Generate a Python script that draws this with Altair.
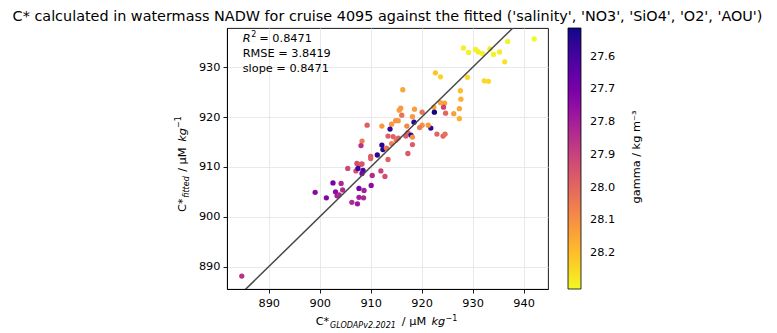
import altair as alt
import pandas as pd

# ---- data ----
glodap = [942.1, 936.9, 928.2, 929.2, 930.6, 931.1, 931.9, 933.4, 934.1, 935.3, 936.3,
          929.0, 932.3, 933.1, 922.7, 923.7, 927.6, 927.7, 923.7, 924.5, 927.4, 926.3, 927.4,
          924.3, 924.7, 922.4, 922.5, 921.8, 921.3, 923.0, 924.2, 924.6, 920.1, 918.6, 918.2,
          918.5, 920.1, 919.6, 916.3, 915.6, 915.9, 916.1, 914.9, 915.4, 914.1, 913.8, 912.2,
          917.1, 917.3, 916.9, 917.9, 918.2, 913.4, 914.4, 915.0, 915.4, 914.1, 912.2, 912.4,
          913.1, 918.2, 917.3, 909.3, 908.3, 908.1, 911.3, 910.0, 910.0, 913.4, 907.3, 908.0,
          908.3, 905.5, 907.1, 907.5, 908.5, 908.3, 910.3, 912.0, 912.8, 902.6, 904.2, 899.1,
          901.3, 903.1, 903.4, 903.8, 904.5, 907.7, 908.7, 910.1, 907.7, 908.6, 906.3, 907.4,
          884.7]
fitted = [935.7, 935.2, 933.9, 933.0, 933.6, 933.1, 932.8, 933.7, 932.6, 933.1, 931.1,
          928.0, 927.3, 927.2, 928.9, 928.1, 925.3, 923.6, 922.9, 922.8, 921.7, 920.7, 919.7,
          922.0, 920.8, 922.0, 921.0, 917.8, 918.4, 916.6, 916.2, 916.6, 921.0, 921.6, 920.1,
          919.0, 918.4, 917.9, 925.5, 921.4, 921.8, 920.4, 919.3, 919.3, 918.6, 917.6, 918.2,
          918.2, 916.9, 916.2, 916.4, 916.0, 916.2, 916.1, 915.4, 915.8, 914.7, 914.4, 913.5,
          913.8, 914.5, 912.7, 918.4, 915.2, 914.3, 912.4, 912.1, 911.7, 911.5, 910.7, 910.5,
          910.6, 909.7, 909.2, 909.7, 909.3, 908.7, 908.3, 909.2, 908.1, 906.8, 906.7, 904.9,
          903.8, 905.0, 904.2, 904.4, 905.4, 905.7, 905.3, 906.3, 903.9, 903.8, 902.9, 902.6,
          888.1]
gamma = [28.31, 28.30, 28.29, 28.30, 28.30, 28.29, 28.30, 28.28, 28.30, 28.29, 28.27,
         28.25, 28.25, 28.25, 28.21, 28.24, 28.20, 28.17, 28.15, 28.14, 28.15, 28.13, 28.17,
         27.90, 28.00, 28.15, 27.512, 27.55, 28.12, 27.99, 27.99, 28.02, 28.03, 28.13, 28.12,
         27.55, 28.10, 28.05, 28.15, 28.13, 28.12, 28.03, 28.10, 28.12, 28.12, 27.55, 28.12,
         28.08, 28.00, 27.97, 27.55, 28.10, 27.98, 27.98, 28.04, 27.99, 28.07, 27.54, 27.54,
         28.03, 27.97, 27.96, 27.98, 28.05, 27.85, 27.55, 27.97, 27.98, 27.98, 27.93, 27.97,
         27.95, 27.92, 27.93, 27.58, 27.60, 27.70, 27.83, 27.90, 27.93, 27.70, 27.82, 27.74,
         27.72, 27.74, 27.80, 27.82, 27.83, 27.70, 27.80, 27.74, 27.80, 27.82, 27.83, 27.78,
         27.85]

one_to_one = [880, 950]
x_ticks = [890, 900, 910, 920, 930, 940]
y_ticks = [890, 900, 910, 920, 930]
cbar_ticks = [27.6, 27.7, 27.8, 27.9, 28.0, 28.1, 28.2]
stats = {"R2": "0.8471", "RMSE": "3.8419", "slope": "0.8471"}
title_text = ("C* calculated in watermass NADW for cruise 4095 against the fitted "
              "('salinity', 'NO3', 'SiO4', 'O2', 'AOU')")

FONT = "DejaVu Sans"
FS = 11.3
SUB = 8.0
W, H = 321, 261

df = pd.DataFrame({"glodap": glodap, "fitted": fitted, "gamma": gamma})
dfl = pd.DataFrame({"x": one_to_one, "y": one_to_one})
one = pd.DataFrame({"d": [0]})

xscale = alt.Scale(domain=[881.8, 944.8], nice=False, zero=False)
yscale = alt.Scale(domain=[885.5, 937.9], nice=False, zero=False)
xaxis = alt.Axis(values=x_ticks, title=None, format="d", grid=True)
yaxis = alt.Axis(values=y_ticks, title=None, format="d", grid=True)

points = alt.Chart(df).mark_circle(size=28, opacity=1).encode(
    x=alt.X("glodap:Q", scale=xscale, axis=xaxis),
    y=alt.Y("fitted:Q", scale=yscale, axis=yaxis),
    color=alt.Color(
        "gamma:Q",
        scale=alt.Scale(scheme="plasma", domain=[28.31, 27.512], reverse=True,
                        nice=False, zero=False),
        legend=alt.Legend(
            title=None, orient="right", offset=20, direction="vertical",
            gradientLength=H, gradientThickness=13, values=cbar_ticks, format=".1f",
            labelOffset=9, padding=0, gradientStrokeColor="black",
            gradientStrokeWidth=0.8,
        ),
    ),
)

line = alt.Chart(dfl).mark_line(color="#474747", strokeWidth=1.5, clip=True).encode(
    x=alt.X("x:Q", scale=xscale, axis=xaxis),
    y=alt.Y("y:Q", scale=yscale, axis=yaxis),
)


def txt(s, x, y, size=FS, style="normal", angle=0, align="left", baseline="alphabetic"):
    kw = dict(font=FONT, fontSize=size, fontStyle=style, align=align,
              baseline=baseline, color="black")
    if angle:
        kw["angle"] = angle
    return alt.Chart(one).mark_text(**kw).encode(
        x=alt.value(x), y=alt.value(y), text=alt.value(s))


texts = [
    # title
    txt(title_text, W / 2, -7.5, size=14.4, align="center"),
    # statistics box
    txt("R", 15.7, 13.7, style="italic"),
    txt("2", 24.3, 9.2, size=SUB),
    txt("= " + stats["R2"], 32.3, 13.7),
    txt("RMSE = " + stats["RMSE"], 15.7, 29.0),
    txt("slope = " + stats["slope"], 15.7, 44.3),
    # x label
    txt("C*", 88.7, 297),
    txt("GLODAPv2.2021", 103, 300, size=SUB, style="italic"),
    txt("/ μM", 174.8, 297),
    txt("kg", 204.5, 297, style="italic"),
    txt("−1", 218.5, 293.3, size=SUB),
    # y label (rotated)
    txt("C*", -41.5, 184, angle=270),
    txt("fitted", -38.5, 169.7, size=SUB, style="italic", angle=270),
    txt("/ μM", -41.5, 143.8, angle=270),
    txt("kg", -41.5, 113.7, style="italic", angle=270),
    txt("−1", -46, 99.9, size=SUB, angle=270),
    # colorbar label
    txt("gamma / kg m⁻³", 412.5, 129, angle=270, align="center"),
]

chart = alt.layer(points, line, *texts).properties(
    width=W, height=H,
    autosize=alt.AutoSizeParams(type="none"),
    padding={"left": 227, "top": 28, "right": 229, "bottom": 44},
).configure_view(stroke="black", strokeWidth=0.9).configure_axis(
    labelFont=FONT, labelFontSize=FS, labelColor="black", tickColor="black",
    tickSize=4, tickWidth=0.9, domainColor="black", domainWidth=0.9,
    gridColor="#e6e6e6", gridWidth=0.9, labelPadding=4,
).configure_axisY(labelPadding=3).configure_legend(
    labelFont=FONT, labelFontSize=FS, labelColor="black",
)

chart.save("out.html", embed_options={"renderer": "svg", "actions": False})
